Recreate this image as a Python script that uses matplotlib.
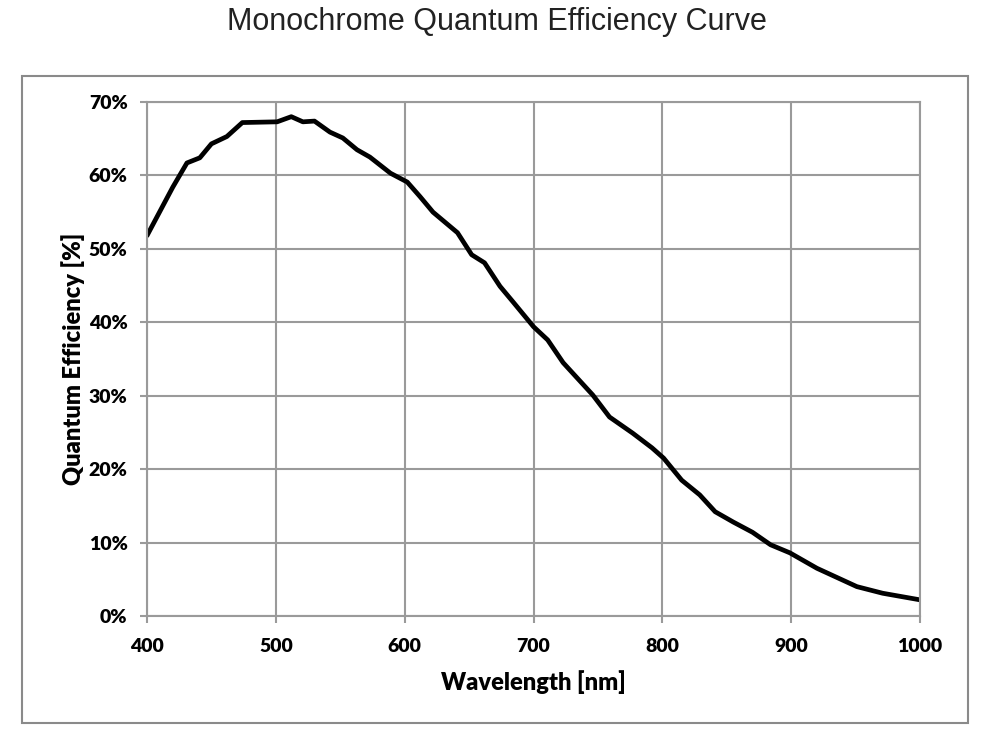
import matplotlib.pyplot as plt
from matplotlib.patches import Rectangle
from matplotlib.ticker import FuncFormatter

# wavelength [nm] and quantum efficiency [%]
wavelength = [400, 420, 431, 441, 450, 462, 474, 501, 512, 521, 530, 542, 552,
              563, 573, 589, 602, 612, 622, 641, 652, 662, 674, 684, 700, 711,
              723, 746, 759, 777, 792, 801, 815, 829, 841, 855, 870, 884, 899,
              920, 951, 971, 1000]
qe = [51.8, 58.4, 61.7, 62.4, 64.3, 65.3, 67.2, 67.3, 68.0, 67.3, 67.4, 65.9,
      65.1, 63.5, 62.5, 60.3, 59.1, 57.1, 55.0, 52.2, 49.2, 48.1, 44.9, 42.8,
      39.4, 37.6, 34.5, 30.1, 27.1, 24.9, 22.9, 21.5, 18.5, 16.5, 14.2, 12.8,
      11.4, 9.7, 8.6, 6.5, 4.0, 3.1, 2.2]

x_ticks = [400, 500, 600, 700, 800, 900, 1000]
y_ticks = [0, 10, 20, 30, 40, 50, 60, 70]

grid_col = '#9a9a9a'
fig = plt.figure(figsize=(9.87, 7.35), dpi=100)
ax = fig.add_axes([147 / 987, 119 / 735, 773 / 987, 514 / 735])

ax.plot(wavelength, qe, color='black', lw=3.4, solid_joinstyle='round',
        solid_capstyle='round')

ax.set_xlim(400, 1000)
ax.set_ylim(0, 70)
ax.set_xticks(x_ticks)
ax.set_yticks(y_ticks)
ax.yaxis.set_major_formatter(FuncFormatter(lambda v, p: '%d%%' % v))
ax.grid(True, color=grid_col, lw=1.5)
ax.set_axisbelow(True)
for s in ax.spines.values():
    s.set_color(grid_col)
    s.set_linewidth(1.5)

ax.tick_params(axis='both', direction='out', length=5, width=1.5,
               color=grid_col, labelsize=14)
ax.tick_params(axis='x', pad=11)
ax.tick_params(axis='y', pad=9)
for lab in ax.get_xticklabels() + ax.get_yticklabels():
    lab.set_family('Lato')
    lab.set_fontweight('heavy')

ax.set_xlabel('Wavelength [nm]', family='Lato', fontweight='heavy',
              fontsize=17, labelpad=11)
ax.set_ylabel('Quantum Efficiency [%]', family='Lato', fontweight='heavy',
              fontsize=17, labelpad=3)

fig.text(497 / 987, 1 - 22 / 735, 'Monochrome Quantum Efficiency Curve',
         ha='center', va='center', fontsize=22, family='Liberation Sans',
         color='#222222')

fig.patches.append(Rectangle((22 / 987, 12 / 735), 946 / 987, 647 / 735,
                             transform=fig.transFigure, fill=False,
                             edgecolor='#8a8a8a', lw=1.5))

fig.savefig('out.png', dpi=100)
